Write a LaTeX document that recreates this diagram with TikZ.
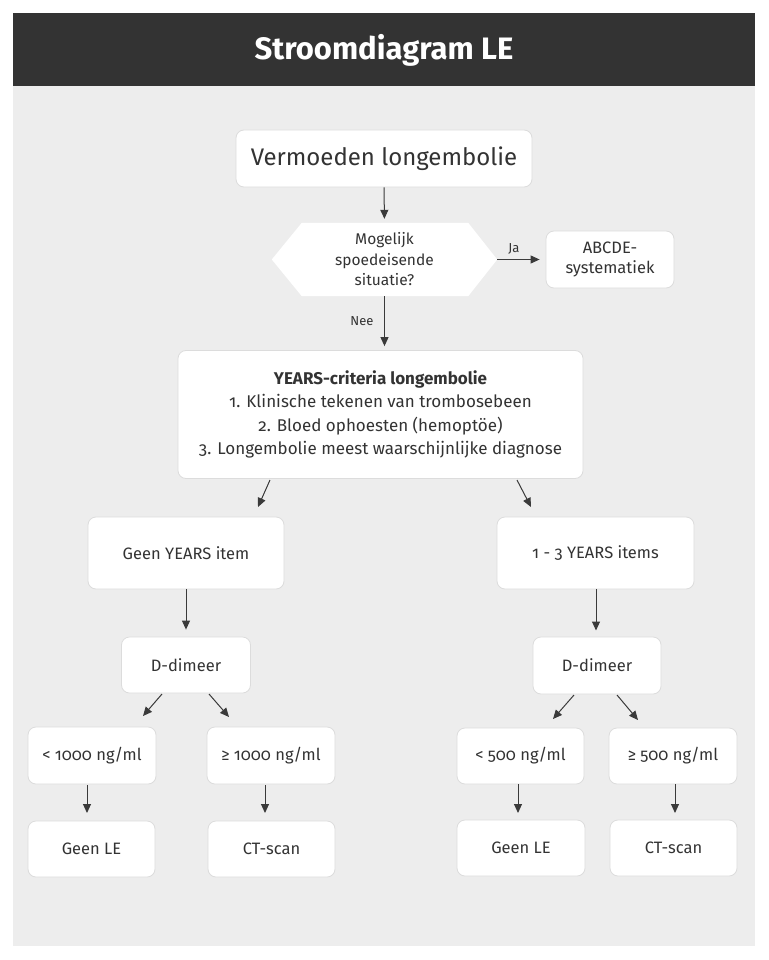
\documentclass[tikz,border=0pt]{standalone}
\usepackage{fontspec}
\setmainfont{Fira Sans}[Numbers=OldStyle]
\usetikzlibrary{arrows.meta}
\definecolor{hdr}{HTML}{333333}
\definecolor{panel}{HTML}{EDEDED}
\definecolor{boxline}{HTML}{DCDCDC}
\definecolor{txt}{HTML}{333333}
\definecolor{arr}{HTML}{3A3A3A}
\pgfdeclarelayer{bg}
\pgfdeclarelayer{back}
\pgfsetlayers{bg,back,main}
\begin{document}
\begin{tikzpicture}[x=1pt,y=-1pt,
  box/.style={draw=boxline, line width=0.8pt, fill=white, rounded corners=8pt, align=center, inner sep=0pt, text=txt, font=\fontsize{16.5}{20}\selectfont},
  hexbox/.style={align=center, inner sep=0pt, text=txt, font=\fontsize{15.5}{20.5}\selectfont, minimum width=225pt, minimum height=73pt},
  arrow/.style={draw=arr, line width=1pt, -{Triangle[length=9pt,width=8pt]}},
  lbl/.style={text=txt, font=\fontsize{13}{15}\selectfont, inner sep=0pt},
  titlestyle/.style={text=white, font=\bfseries\fontsize{31}{34}\selectfont, inner sep=0pt}
]
\useasboundingbox (0,0) rectangle (768,960);
\begin{pgfonlayer}{bg}
\fill[white] (0,0) rectangle (768,960);
\fill[panel] (13,86) rectangle (755,946);
\fill[hdr] (13,13) rectangle (755,86);
\end{pgfonlayer}
\node[titlestyle] (title) at (384,50) {Stroomdiagram LE};

\node[box, minimum width=296pt, minimum height=57pt, font=\fontsize{24}{28}\selectfont] (verm) at (384,158.5) {Vermoeden longembolie};

\node[hexbox] (hex) at (384.5,259.5) {Mogelijk\\spoedeisende\\situatie?};
\begin{pgfonlayer}{back}
\fill[white] (hex.west) -- ([xshift=30pt]hex.north west) -- ([xshift=-29pt]hex.north east) -- (hex.east) -- ([xshift=-29pt]hex.south east) -- ([xshift=30pt]hex.south west) -- cycle;
\end{pgfonlayer}

\node[box, minimum width=128pt, minimum height=57pt] (abc) at (610,259.5) {ABCDE-\\systematiek};

\node[box, minimum width=405pt, minimum height=128pt, font=\fontsize{17}{23.5}\selectfont] (years) at (380.5,414.5) {\textbf{YEARS-criteria longembolie}\\1. Klinische tekenen van trombosebeen\\2. Bloed ophoesten (hemoptöe)\\3. Longembolie meest waarschijnlijke diagnose};

\node[box, minimum width=196pt, minimum height=72pt] (geen) at (186,553) {Geen YEARS item};
\node[box, minimum width=197pt, minimum height=72pt] (een) at (595.5,553) {1 - 3 YEARS items};

\node[box, minimum width=129pt, minimum height=56pt] (ddl) at (186,665) {D-dimeer};
\node[box, minimum width=128pt, minimum height=57pt] (ddr) at (597,665.5) {D-dimeer};

\node[box, minimum width=128pt, minimum height=57pt] (lt1000) at (92,755.5) {< 1000 ng/ml};
\node[box, minimum width=128pt, minimum height=57pt] (ge1000) at (271,755.5) {≥ 1000 ng/ml};
\node[box, minimum width=127pt, minimum height=56pt] (lt500) at (520.5,756) {< 500 ng/ml};
\node[box, minimum width=128pt, minimum height=56pt] (ge500) at (673,756) {≥ 500 ng/ml};

\node[box, minimum width=127pt, minimum height=56pt] (geenle1) at (91.5,849) {Geen LE};
\node[box, minimum width=127pt, minimum height=56pt] (ct1) at (271.5,849) {CT-scan};
\node[box, minimum width=128pt, minimum height=56pt] (geenle2) at (521,848) {Geen LE};
\node[box, minimum width=127pt, minimum height=56pt] (ct2) at (673.5,848) {CT-scan};

% connectors
\draw[arrow, shorten >=4pt] (verm.south) -- (hex.north);
\draw[arrow, shorten >=6pt] (hex.east) -- (abc.west);
\node[lbl] (ja) at (514,249) {Ja};
\draw[arrow, shorten >=4pt] (hex.south) -- (hex.south |- years.north);
\node[lbl] (nee) at (362,321) {Nee};

\coordinate (yl1) at (270,480); \coordinate (yl2) at (258,507);
\coordinate (yr1) at (517,480); \coordinate (yr2) at (531,507);
\draw[arrow] (yl1) -- (yl2);
\draw[arrow] (yr1) -- (yr2);

\draw[arrow, shorten >=7pt] (geen.south) -- (ddl.north);
\coordinate (er1) at (596,589); \coordinate (er2) at (596,630.5);
\draw[arrow] (er1) -- (er2);

\coordinate (dl1) at (162,694); \coordinate (dl2) at (143,716);
\coordinate (dl3) at (209,694); \coordinate (dl4) at (229,717);
\coordinate (dr1) at (574,695); \coordinate (dr2) at (553,719);
\coordinate (dr3) at (617,695); \coordinate (dr4) at (638,720);
\draw[arrow] (dl1) -- (dl2);
\draw[arrow] (dl3) -- (dl4);
\draw[arrow] (dr1) -- (dr2);
\draw[arrow] (dr3) -- (dr4);

\coordinate (v1a) at (87,785); \coordinate (v1b) at (87,813);
\coordinate (v2a) at (265,785); \coordinate (v2b) at (265,813);
\coordinate (v3a) at (518,784); \coordinate (v3b) at (518,813);
\coordinate (v4a) at (675,784); \coordinate (v4b) at (675,813);
\draw[arrow] (v1a) -- (v1b);
\draw[arrow] (v2a) -- (v2b);
\draw[arrow] (v3a) -- (v3b);
\draw[arrow] (v4a) -- (v4b);
\end{tikzpicture}
\end{document}
